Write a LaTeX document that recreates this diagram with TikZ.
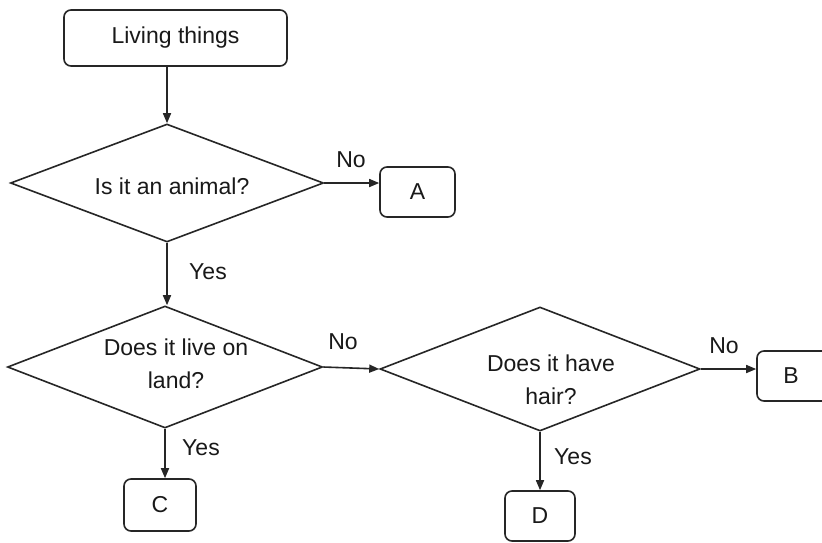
\documentclass[tikz,border=0pt]{standalone}
\usepackage{fontspec}
\setmainfont{Liberation Sans}
\usetikzlibrary{shapes.geometric,arrows.meta}
\begin{document}
\begin{tikzpicture}[x=1pt,y=-1pt,
  every node/.style={font=\fontsize{23}{33}\selectfont, text=black!90},
  box/.style={draw=black!85, rounded corners=7pt, line width=1.6pt, inner sep=0pt, align=center},
  dia/.style={draw=black!85, diamond, line width=1.6pt, inner sep=0pt},
  txt/.style={align=center, inner sep=0pt},
  lbl/.style={inner sep=0pt},
  arr/.style={draw=black!85, line width=1.6pt, -{Triangle[length=10pt,width=8pt]}}
]
\useasboundingbox[fill=white] (0,0) rectangle (822,542);
% nodes
\node[box, minimum width=223pt, minimum height=56pt] (living) at (175.5,38) {Living things};
\node[dia, minimum width=313pt, minimum height=118pt] (d1) at (167,183) {};
\node[txt] (d1t) at (172,186) {Is it an animal?};
\node[box, minimum width=75pt, minimum height=50pt] (A) at (417.5,192) {A};
\node[dia, minimum width=315pt, minimum height=122pt] (d2) at (165,367) {};
\node[txt] (d2t) at (176,364) {Does it live on\\land?};
\node[dia, minimum width=320pt, minimum height=124pt] (d3) at (540,369) {};
\node[txt] (d3t) at (551,380) {Does it have\\hair?};
\node[box, minimum width=76pt, minimum height=50pt] (B) at (795,376) {\hspace*{-8pt}B};
\node[box, minimum width=72pt, minimum height=52pt] (C) at (160,505) {C};
\node[box, minimum width=70pt, minimum height=50pt] (D) at (540,516) {D};
% connectors
\draw[arr] (d1.north |- living.south) -- (d1.north);
\draw[arr] (d1.east) -- (d1.east -| A.west);
\draw[arr] (d1.south) -- (d1.south |- d2.north);
\draw[arr] (d2.east) -- (d3.west);
\draw[arr] (d3.east) -- (d3.east -| B.west);
\draw[arr] (d2.south) -- (d2.south |- C.north);
\draw[arr] (d3.south) -- (d3.south |- D.north);
% labels
\node[lbl] (no1) at (351,160) {No};
\node[lbl] (yes1) at (208,272) {Yes};
\node[lbl] (no2) at (343,342) {No};
\node[lbl] (yes2) at (201,448) {Yes};
\node[lbl] (no3) at (724,346) {No};
\node[lbl] (yes3) at (573,457) {Yes};
\end{tikzpicture}
\end{document}
